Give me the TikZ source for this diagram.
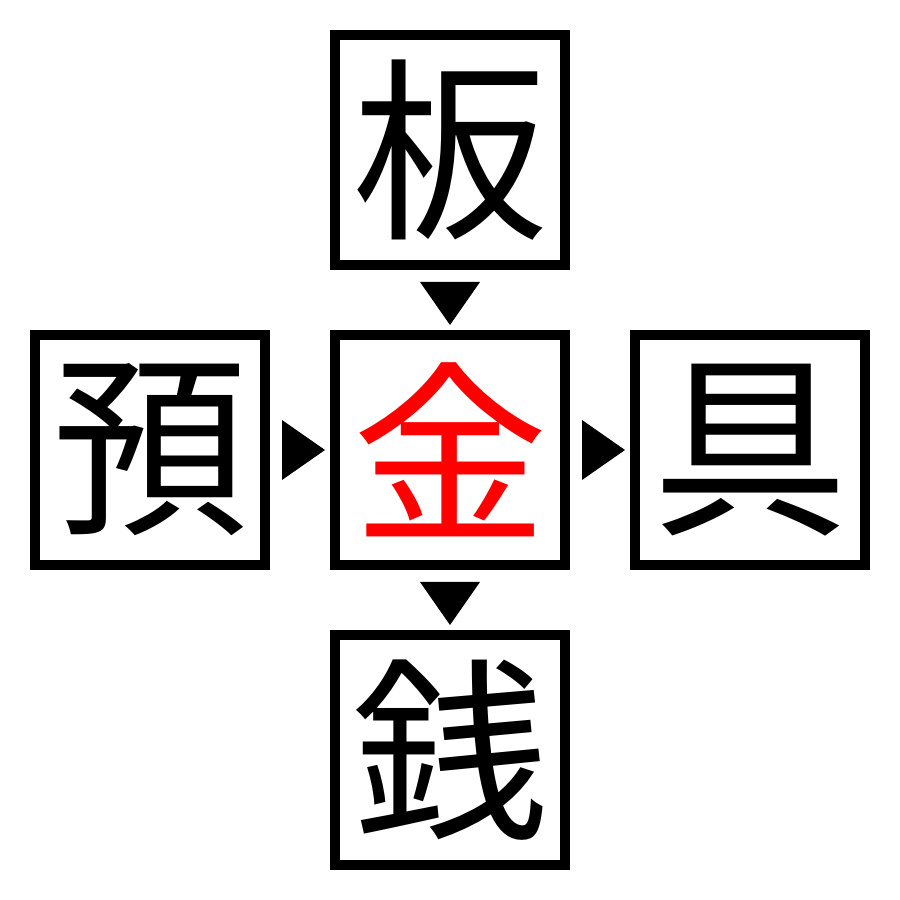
\documentclass[tikz,border=0pt]{standalone}
\usepackage{fontspec}
\newfontfamily\cjk{Noto Sans CJK JP}
\usetikzlibrary{calc}
\begin{document}
\begin{tikzpicture}[x=1pt,y=1pt,
  charbox/.style={draw, line width=10pt, minimum size=230pt, inner sep=0pt,
    font=\cjk\fontsize{196}{196}\selectfont},
  marker/.style={fill=black, draw=none}]
\useasboundingbox (0,0) rectangle (900,900);
\node[charbox] (t) at (450,750) {板};
\node[charbox] (l) at (150,450) {預};
\node[charbox, text=red] (m) at (450,450) {金};
\node[charbox] (r) at (750,450) {具};
\node[charbox] (b) at (450,150) {銭};
% markers between boxes (anchors lie on the outer edge of the frames)
\fill[marker] ($(l.east)+(12,30)$) -- ($(l.east)+(12,-30)$) -- ($(m.west)+(-5,0)$) -- cycle;
\fill[marker] ($(m.east)+(12,30)$) -- ($(m.east)+(12,-30)$) -- ($(r.west)+(-5,0)$) -- cycle;
\fill[marker] ($(t.south)+(-30,-12)$) -- ($(t.south)+(30,-12)$) -- ($(m.north)+(0,5)$) -- cycle;
\fill[marker] ($(m.south)+(-30,-12)$) -- ($(m.south)+(30,-12)$) -- ($(b.north)+(0,5)$) -- cycle;
\end{tikzpicture}
\end{document}
